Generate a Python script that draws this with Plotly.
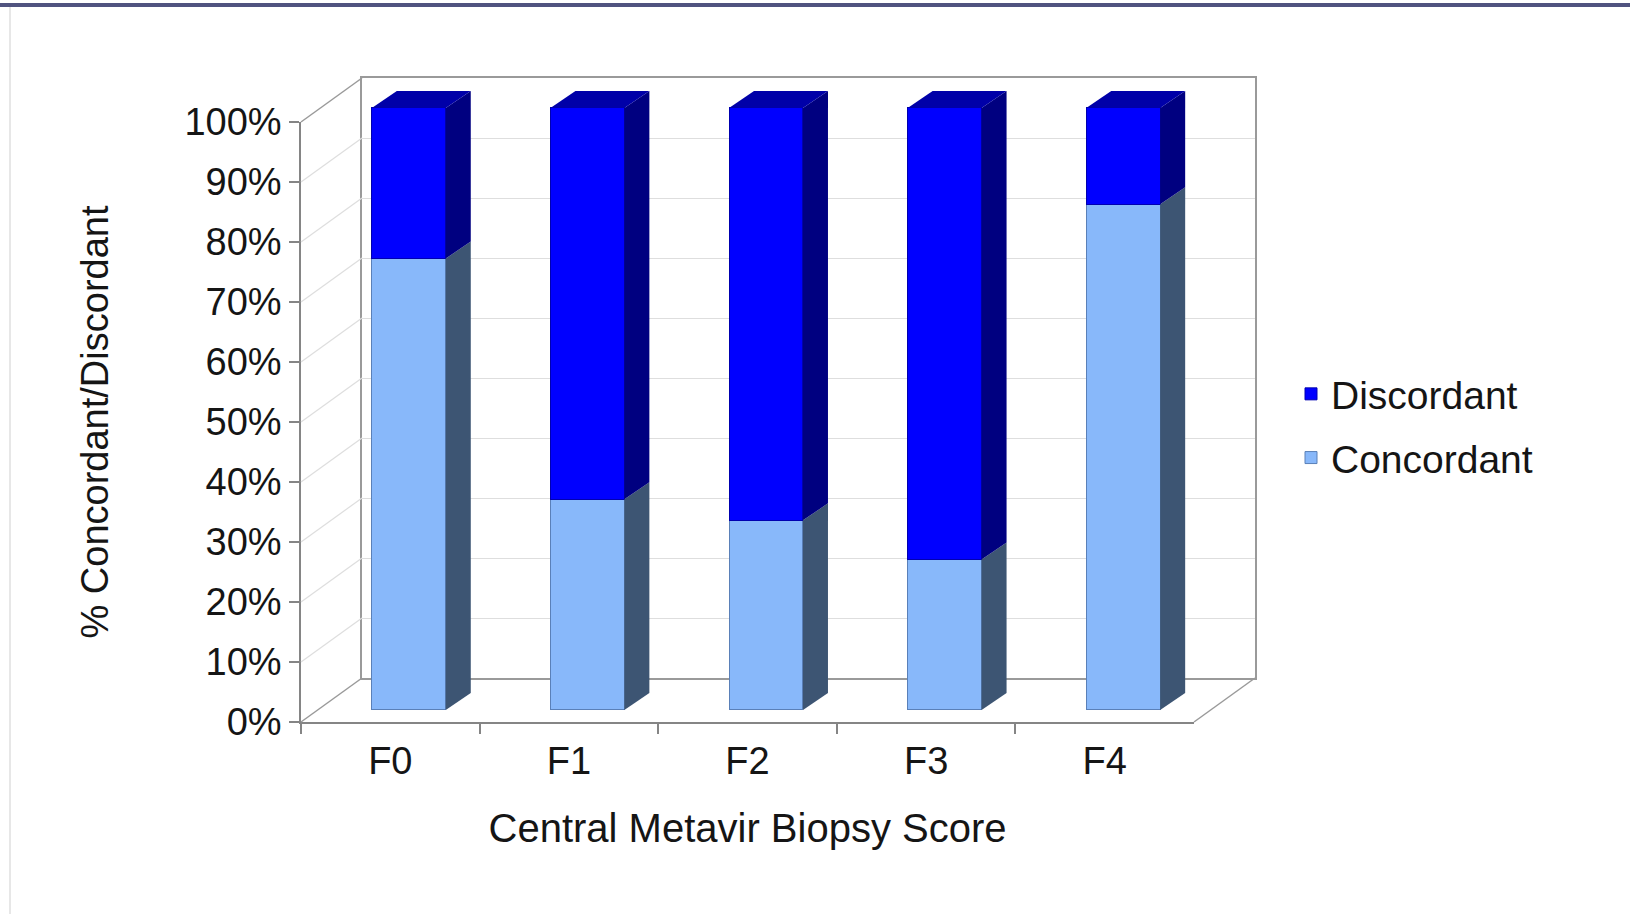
import plotly.graph_objects as go

# ---------------- data ----------------
categories = ["F0", "F1", "F2", "F3", "F4"]
concordant = [75, 35, 31.5, 25, 84]
discordant = [25, 65, 68.5, 75, 16]
y_ticks = [0, 10, 20, 30, 40, 50, 60, 70, 80, 90, 100]
y_ticktext = ["0%", "10%", "20%", "30%", "40%", "50%", "60%", "70%", "80%", "90%", "100%"]

# ---------------- geometry / style ----------------
W, H = 1630, 914


def fx(px):
    return px / W


def fy(py):
    return 1 - py / H


FRONT_L, FRONT_R, FRONT_B, FRONT_T = 301, 1194, 722, 122   # front axis plane
DEPTH_X, DEPTH_Y = 61, 44                                  # back wall offset
BAR_L = 319.5
BAR_R = BAR_L + (FRONT_R - FRONT_L)
BAR_B, BAR_T100 = 710, 108                                 # bar plane 0% / 100%
BAR_DX, BAR_DY = 25, 17                                    # bar depth
BAR_WIDTH = 0.414
Y_TOP = 110

unit_px = (BAR_B - BAR_T100) / 100.0
bar_top_px = BAR_B - Y_TOP * unit_px
cat_px = (BAR_R - BAR_L) / len(categories)
dx = BAR_DX / cat_px
dy = BAR_DY / unit_px

C_CONC = "#88B8FA"
C_CONC_SIDE = "#3D5573"
C_DISC = "#0000FF"
C_DISC_SIDE = "#000080"
C_DISC_TOP = "#0000A8"
WALL_LINE = "#9a9a9a"
GRID = "#dedede"
AXIS_LINE = "#858585"
TXT = "#151515"
FONT = "Liberation Sans, Arial, sans-serif"

fig = go.Figure()

# back wall subplot (x, y)
fig.add_trace(go.Scatter(x=[0], y=[0], mode="markers", marker=dict(opacity=0),
                         xaxis="x", yaxis="y", showlegend=False, hoverinfo="skip"))
# front axis subplot (x2, y2)
fig.add_trace(go.Scatter(x=categories, y=[0] * len(categories), mode="markers",
                         marker=dict(opacity=0), xaxis="x2", yaxis="y2",
                         showlegend=False, hoverinfo="skip"))
# bars (x3, y3)
fig.add_trace(go.Bar(name="Concordant", x=categories, y=concordant, width=BAR_WIDTH,
                     legendgroup="conc", legendrank=2,
                     marker=dict(color=C_CONC, line=dict(color="#5a80b8", width=1)),
                     xaxis="x3", yaxis="y3"))
fig.add_trace(go.Bar(name="Discordant", x=categories, y=discordant, width=BAR_WIDTH,
                     legendgroup="disc", legendrank=1,
                     marker=dict(color=C_DISC, line=dict(color="#0000b0", width=1)),
                     xaxis="x3", yaxis="y3"))

shapes = []
# 3D faces of bars
for i, (c, d) in enumerate(zip(concordant, discordant)):
    xr = i + BAR_WIDTH / 2
    xl = i - BAR_WIDTH / 2
    top = c + d
    shapes.append(dict(type="path", xref="x3", yref="y3",
                       path=f"M{xr},0 L{xr+dx},{dy} L{xr+dx},{c+dy} L{xr},{c} Z",
                       fillcolor=C_CONC_SIDE, line=dict(width=0)))
    shapes.append(dict(type="path", xref="x3", yref="y3",
                       path=f"M{xr},{c} L{xr+dx},{c+dy} L{xr+dx},{top+dy} L{xr},{top} Z",
                       fillcolor=C_DISC_SIDE, line=dict(width=0)))
    shapes.append(dict(type="path", xref="x3", yref="y3",
                       path=f"M{xl},{top} L{xr},{top} L{xr+dx},{top+dy} L{xl+dx},{top+dy} Z",
                       fillcolor=C_DISC_TOP, line=dict(width=0)))

# side wall diagonals (gridlines) and floor
for v in y_ticks:
    yf = FRONT_B - v * (FRONT_B - FRONT_T) / 100.0
    edge = v in (y_ticks[0], y_ticks[-1])
    shapes.append(dict(type="line", xref="paper", yref="paper",
                       x0=fx(FRONT_L), y0=fy(yf),
                       x1=fx(FRONT_L + DEPTH_X), y1=fy(yf - DEPTH_Y),
                       line=dict(color=WALL_LINE if edge else GRID, width=1.5 if edge else 1.2)))
shapes.append(dict(type="line", xref="paper", yref="paper",
                   x0=fx(FRONT_R), y0=fy(FRONT_B),
                   x1=fx(FRONT_R + DEPTH_X), y1=fy(FRONT_B - DEPTH_Y),
                   line=dict(color=WALL_LINE, width=1.5)))
# slide frame
shapes.append(dict(type="rect", xref="paper", yref="paper", x0=0, x1=1,
                   y0=fy(7), y1=fy(3), fillcolor="#50537f", line=dict(width=0)))
shapes.append(dict(type="line", xref="paper", yref="paper", x0=fx(10), x1=fx(10),
                   y0=0, y1=fy(7), line=dict(color="#cfcfcf", width=1)))

fig.update_layout(
    width=W, height=H,
    margin=dict(l=0, r=0, t=0, b=0, autoexpand=False),
    paper_bgcolor="white",
    plot_bgcolor="rgba(0,0,0,0)",
    font=dict(family=FONT, size=38, color=TXT),
    barmode="stack",
    bargap=0,
    showlegend=True,
    legend=dict(x=fx(1291), y=fy(426), xanchor="left", yanchor="middle",
                traceorder="grouped", tracegroupgap=10,
                font=dict(size=39, color=TXT),
                bgcolor="rgba(0,0,0,0)", itemclick=False),
    shapes=shapes,
    xaxis=dict(domain=[fx(FRONT_L + DEPTH_X), fx(FRONT_R + DEPTH_X)], range=[0, 1],
               anchor="y", showgrid=False, zeroline=False, showticklabels=False,
               ticks="", showline=True, mirror=True, linecolor=WALL_LINE, linewidth=1.5,
               automargin=False, fixedrange=True),
    yaxis=dict(domain=[fy(FRONT_B - DEPTH_Y), fy(FRONT_T - DEPTH_Y)], range=[0, 100],
               anchor="x", tickvals=y_ticks, showgrid=True, gridcolor=GRID, gridwidth=1.2,
               zeroline=False, showticklabels=False, ticks="", showline=True, mirror=True,
               linecolor=WALL_LINE, linewidth=1.5, automargin=False, fixedrange=True),
    xaxis2=dict(domain=[fx(FRONT_L), fx(FRONT_R)], type="category",
                categoryorder="array", categoryarray=categories,
                range=[-0.5, len(categories) - 0.5], anchor="y2",
                showgrid=False, zeroline=False, showline=True, linecolor=AXIS_LINE,
                linewidth=1.5, ticks="outside", tickson="boundaries", ticklen=10,
                tickcolor=AXIS_LINE, tickwidth=1.5, tickfont=dict(size=38, color=TXT),
                ticklabelstandoff=5,
                title=dict(text="Central Metavir Biopsy Score", font=dict(size=40, color=TXT),
                           standoff=33),
                automargin=False, fixedrange=True),
    yaxis2=dict(domain=[fy(FRONT_B), fy(FRONT_T)], range=[0, 100], anchor="x2",
                tickvals=y_ticks, ticktext=y_ticktext, showgrid=False, zeroline=False,
                showline=True, linecolor=AXIS_LINE, linewidth=1.5, ticks="outside",
                ticklen=10, tickcolor=AXIS_LINE, tickwidth=1.5,
                tickfont=dict(size=38, color=TXT),
                title=dict(text="% Concordant/Discordant", font=dict(size=38, color=TXT),
                           standoff=64),
                automargin=False, fixedrange=True),
    xaxis3=dict(domain=[fx(BAR_L), fx(BAR_R)], type="category",
                categoryorder="array", categoryarray=categories,
                range=[-0.5, len(categories) - 0.5], anchor="y3", visible=False,
                automargin=False, fixedrange=True),
    yaxis3=dict(domain=[fy(BAR_B), fy(bar_top_px)], range=[0, Y_TOP], anchor="x3",
                visible=False, automargin=False, fixedrange=True),
)

fig.write_html("out.html")
